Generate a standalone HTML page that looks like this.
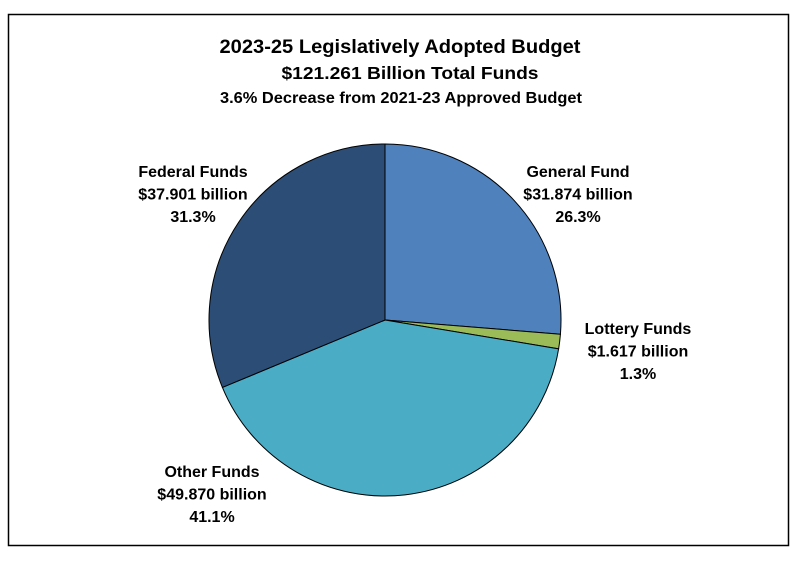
<!DOCTYPE html>
<html><head><meta charset="utf-8"><style>
body{margin:0;background:#fff;}
svg{display:block;font-family:"Liberation Sans",sans-serif;font-weight:bold;}
</style></head><body>
<svg width="806" height="567" viewBox="0 0 806 567">
<rect x="8.5" y="14.5" width="780" height="531" fill="#fff" stroke="#000" stroke-width="1.5"/>
<text x="400" y="53" font-size="19.5" text-anchor="middle" textLength="361" lengthAdjust="spacingAndGlyphs">2023-25 Legislatively Adopted Budget</text>
<text x="410" y="79" font-size="17.5" text-anchor="middle" textLength="257" lengthAdjust="spacingAndGlyphs">$121.261 Billion Total Funds</text>
<text x="401" y="103" font-size="16" text-anchor="middle" textLength="362" lengthAdjust="spacingAndGlyphs">3.6% Decrease from 2021-23 Approved Budget</text>
<g id="slices"></g>
<g id="labels" font-size="16" text-anchor="middle"></g>
</svg>
<script>
const categories=["General Fund","Lottery Funds","Other Funds","Federal Funds"];
const values=[31.874,1.617,49.870,37.901];
const valueLabels=["$31.874 billion","$1.617 billion","$49.870 billion","$37.901 billion"];
const pctLabels=["26.3%","1.3%","41.1%","31.3%"];
const colors=["#4f81bd","#9bbb59","#4bacc6","#2c4d75"];
const labelPos=[[578,177],[638,334],[212,477],[193,177]];
const cx=385,cy=320,r=176;
const total=values.reduce((a,b)=>a+b,0);
const ns="http://www.w3.org/2000/svg";
const gS=document.getElementById('slices'),gL=document.getElementById('labels');
function pt(a){return [cx+r*Math.sin(a),cy-r*Math.cos(a)];}
let a0=0;
values.forEach((v,i)=>{
  const a1=a0+v/total*2*Math.PI;
  const p0=pt(a0),p1=pt(a1);
  const large=(a1-a0)>Math.PI?1:0;
  const p=document.createElementNS(ns,'path');
  p.setAttribute('d',`M${cx},${cy}L${p0[0]},${p0[1]}A${r},${r} 0 ${large} 1 ${p1[0]},${p1[1]}Z`);
  p.setAttribute('fill',colors[i]);p.setAttribute('stroke','#000');p.setAttribute('stroke-width','1');
  
  
  gS.appendChild(p);
  const t=document.createElementNS(ns,'text');
  
  
  [categories[i],valueLabels[i],pctLabels[i]].forEach((s,j)=>{
    const ts=document.createElementNS(ns,'tspan');
    ts.setAttribute('x',labelPos[i][0]);ts.setAttribute('y',labelPos[i][1]+j*22.5);
    ts.textContent=s;t.appendChild(ts);
  });
  gL.appendChild(t);
  a0=a1;
});
</script>
</body></html>
